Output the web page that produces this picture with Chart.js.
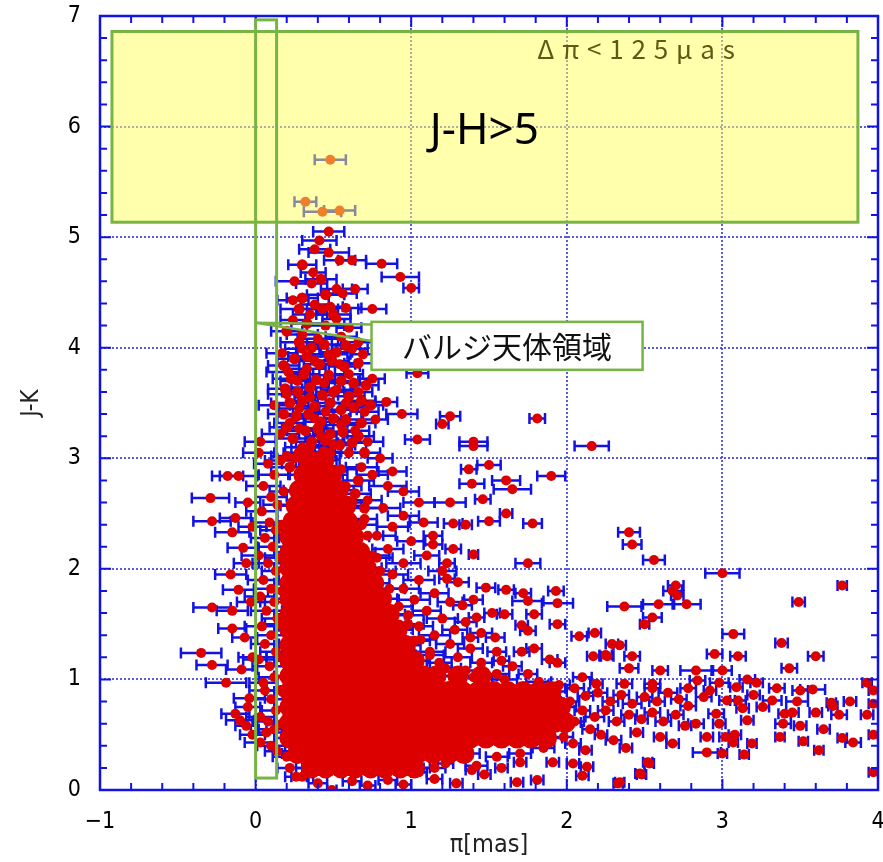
<!DOCTYPE html>
<html>
<head>
<meta charset="utf-8">
<script src="https://cdn.jsdelivr.net/npm/chart.js@4.4.1/dist/chart.umd.min.js"></script>
<style>
  html, body { margin: 0; padding: 0; background: #fff; }
  canvas { display: block; }
</style>
</head>
<body>
<canvas id="grafico" width="883" height="862"></canvas>
<script>
// 軸の範囲
const xRange = [-1, 4];
const yRange = [0, 7];

// 密集部（バルジ＋円盤）: [J-K, [π...]]
const coreRows = [
  [0.20, [0.36,0.45,0.55,0.64,0.74,0.83,0.93,1.02]],
  [0.33, [0.27,0.37,0.46,0.56,0.66,0.75,0.85,0.95,1.04,1.14,1.24,1.34]],
  [0.47, [0.22,0.31,0.41,0.51,0.60,0.70,0.80,0.90,0.99,1.09,1.19,1.29,1.38,1.48,1.58,1.68,1.77,1.87]],
  [0.61, [0.22,0.27,0.36,0.46,0.56,0.65,0.75,0.85,0.94,1.04,1.14,1.24,1.33,1.43,1.53,1.63,1.72,1.82,1.92,1.99]],
  [0.75, [0.22,0.31,0.41,0.51,0.60,0.70,0.80,0.89,0.99,1.09,1.19,1.28,1.38,1.48,1.58,1.67,1.77,1.87,1.96]],
  [0.89, [0.22,0.27,0.36,0.46,0.56,0.65,0.75,0.85,0.94,1.04,1.14,1.24,1.33,1.43,1.53,1.62,1.72,1.82,1.90]],
  [1.03, [0.22,0.31,0.41,0.51,0.60,0.70,0.80,0.89,0.99,1.08,1.16,1.30,1.45]],
  [1.17, [0.22,0.27,0.36,0.46,0.56,0.65,0.75,0.85,0.94,1.02]],
  [1.31, [0.22,0.31,0.41,0.51,0.60,0.70,0.80,0.89,0.96]],
  [1.45, [0.22,0.27,0.36,0.46,0.56,0.65,0.75,0.84,0.91]],
  [1.59, [0.22,0.31,0.41,0.51,0.60,0.70,0.79,0.86]],
  [1.73, [0.22,0.27,0.36,0.46,0.56,0.65,0.74,0.81]],
  [1.87, [0.22,0.31,0.41,0.51,0.60,0.69,0.76]],
  [2.01, [0.22,0.27,0.36,0.46,0.55,0.64,0.71]],
  [2.15, [0.22,0.31,0.41,0.50,0.59,0.67]],
  [2.29, [0.22,0.27,0.36,0.45,0.54,0.63]],
  [2.43, [0.24,0.32,0.41,0.50,0.59]],
  [2.57, [0.26,0.35,0.44,0.53,0.58]],
  [2.71, [0.28,0.37,0.46,0.53]],
  [2.85, [0.31,0.40,0.49]],
  [2.99, [0.34,0.44]]
];
const coreErr = 0.1;

// 円錐状の上部（中程度の密度）: [π, J-K, Δπ]
const coneDense = [
  [0.20,4.15,0.10],[0.28,4.05,0.12],[0.36,4.00,0.10],[0.44,4.03,0.11],[0.52,3.96,0.10],[0.58,4.02,0.09],
  [0.25,3.90,0.11],[0.33,3.92,0.12],[0.41,3.85,0.10],[0.49,3.88,0.11],[0.57,3.83,0.10],[0.66,3.86,0.09],
  [0.18,3.84,0.10],[0.23,3.72,0.12],[0.31,3.76,0.10],[0.39,3.71,0.12],[0.47,3.75,0.10],[0.55,3.70,0.11],
  [0.63,3.68,0.09],[0.71,3.66,0.08],[0.19,3.63,0.11],[0.27,3.60,0.10],[0.35,3.64,0.12],[0.43,3.57,0.10],
  [0.50,3.60,0.11],[0.60,3.56,0.10],[0.68,3.52,0.09],[0.22,3.50,0.12],[0.30,3.52,0.10],[0.38,3.47,0.11],
  [0.48,3.50,0.10],[0.55,3.44,0.10],[0.63,3.46,0.09],[0.74,3.48,0.08],[0.18,3.40,0.10],[0.26,3.38,0.12],
  [0.34,3.40,0.10],[0.42,3.33,0.11],[0.50,3.36,0.10],[0.58,3.35,0.10],[0.68,3.32,0.09],[0.20,3.28,0.11],
  [0.32,3.25,0.12],[0.40,3.27,0.10],[0.48,3.22,0.11],[0.56,3.24,0.10],[0.66,3.20,0.10],[0.24,3.18,0.11],
  [0.36,3.15,0.10],[0.45,3.16,0.12],[0.54,3.12,0.10],[0.62,3.14,0.09],[0.28,3.05,0.10],[0.44,3.06,0.11],
  [0.70,3.05,0.10],[0.22,2.92,0.12],[0.66,2.80,0.10],[0.64,2.68,0.10],[0.70,2.55,0.11],[0.68,2.40,0.10],
  [0.30,4.45,0.10],[0.45,4.48,0.12],[0.33,4.22,0.10],[0.50,4.30,0.11],[0.28,4.35,0.12],[0.42,4.62,0.10],
  [0.30,4.75,0.09]
];

const upperPts = [
  [0.48,5.70,0.10],[0.32,5.32,0.07],[0.43,5.23,0.12],[0.54,5.24,0.10],
  [0.47,5.05,0.10],[0.41,4.97,0.11],[0.38,4.89,0.10],[0.47,4.86,0.13],[0.54,4.79,0.10],[0.62,4.79,0.09],
  [0.81,4.76,0.10],[0.93,4.64,0.12],[1.00,4.54,0.05],[0.37,4.68,0.08],[0.25,4.60,0.12],[0.36,4.58,0.10],
  [0.52,4.53,0.10],[0.64,4.53,0.08],[0.56,4.49,0.09],[0.24,4.43,0.10],[0.38,4.39,0.09],[0.43,4.35,0.10],
  [0.48,4.37,0.08],[0.58,4.36,0.10],[0.75,4.35,0.09],[0.35,4.30,0.11],[0.24,4.25,0.08],[0.52,4.26,0.09],
  [0.45,4.20,0.12],[0.60,4.18,0.08],[0.30,4.12,0.10],[0.40,4.08,0.13],[0.55,4.10,0.10],[0.66,4.05,0.09],
  [0.17,3.95,0.10],[0.30,3.99,0.11],[0.47,3.94,0.12],[0.62,3.99,0.10],[0.69,3.94,0.08],[0.38,3.88,0.10],
  [0.21,3.78,0.14],[0.33,3.81,0.12],[0.54,3.85,0.10],[0.60,3.76,0.09],[0.75,3.72,0.08],[1.04,3.77,0.07],
  [0.27,3.70,0.11],[0.44,3.68,0.12],[0.52,3.62,0.10],[0.66,3.60,0.09],[0.20,3.58,0.12],[0.35,3.55,0.10],
  [0.84,3.51,0.07],[0.58,3.50,0.11],[0.12,3.48,0.10],[0.28,3.45,0.13],[0.45,3.42,0.10],[0.70,3.42,0.09],
  [0.94,3.40,0.10],[0.38,3.36,0.12],[0.77,3.35,0.08],[0.22,3.32,0.10],[0.55,3.30,0.10],[0.28,3.27,0.11],
  [0.64,3.25,0.09],[0.16,3.22,0.12],[0.42,3.20,0.10],[0.03,3.15,0.10],[1.04,3.17,0.08],[0.72,3.15,0.10],
  [0.50,3.12,0.12],[0.30,3.10,0.11],[0.60,3.05,0.09],[0.20,3.02,0.10],[0.80,3.00,0.08],[0.40,2.98,0.12],
  [0.68,2.92,0.10],[0.88,2.88,0.09],[0.62,2.60,0.10],[0.58,2.75,0.10],[0.55,2.90,0.10],[0.48,3.05,0.11],
  [0.35,3.10,0.12],[0.25,3.00,0.11]
];

const rightPts = [
  [1.25,3.38,0.065],[1.20,3.31,0.04],[1.81,3.36,0.05],[1.40,3.15,0.09],[1.40,3.11,0.09],[2.16,3.11,0.11],
  [1.50,2.94,0.075],[1.37,2.90,0.05],[1.90,2.84,0.09],[1.61,2.80,0.09],[1.39,2.77,0.08],[1.65,2.72,0.12],
  [1.25,2.60,0.10],[1.46,2.63,0.05],[1.61,2.50,0.04],[1.50,2.43,0.07],[1.78,2.41,0.06],[1.35,2.40,0.04],
  [1.27,2.41,0.06],[1.14,2.30,0.06],[1.27,2.18,0.05],[1.40,2.13,0.03],[1.75,2.05,0.08],[2.40,2.33,0.07],
  [2.42,2.22,0.06],[1.14,2.22,0.06],[1.23,2.05,0.05],[2.56,2.08,0.07],[3.00,1.96,0.11],[3.77,1.85,0.03],
  [2.70,1.85,0.05],[2.68,1.80,0.06],[2.71,1.76,0.04],[3.49,1.70,0.04],[2.37,1.66,0.11],[2.59,1.68,0.10],
  [2.77,1.68,0.09],[2.55,1.56,0.06],[2.50,1.50,0.03],[3.07,1.41,0.07],[3.38,1.33,0.04],[2.29,1.32,0.04],
  [2.34,1.31,0.04],[2.25,1.22,0.04],[2.42,1.21,0.05],[2.95,1.23,0.05],[3.10,1.21,0.05],[3.60,1.21,0.05],
  [3.43,1.10,0.05],[2.40,1.10,0.06],[2.83,1.08,0.10],[3.00,1.08,0.06],
  [0.75,2.85,0.10],[0.85,2.75,0.12],[0.95,2.70,0.10],[0.72,2.62,0.09],[1.05,2.60,0.10],[0.82,2.55,0.11],
  [0.95,2.48,0.10],[0.70,2.45,0.08],[1.08,2.42,0.09],[0.88,2.38,0.10],[0.78,2.30,0.12],[1.00,2.25,0.09],
  [0.85,2.18,0.10],[1.10,2.12,0.08],[0.78,2.10,0.10],[0.95,2.05,0.11],[1.20,1.98,0.09],[0.88,1.95,0.10],
  [1.05,1.90,0.10],[1.30,1.88,0.07],[0.95,1.82,0.10],[1.15,1.78,0.09],[1.02,1.72,0.10],[1.25,1.70,0.08],
  [1.40,1.72,0.06],[1.10,1.62,0.09],[0.98,1.58,0.10],[1.20,1.55,0.10],[1.35,1.52,0.07],[1.05,1.48,0.09],
  [1.28,1.45,0.08],[1.15,1.40,0.10],[1.45,1.42,0.07],[1.02,1.35,0.10],[1.25,1.32,0.09],[1.38,1.28,0.08],
  [1.12,1.25,0.10],[1.55,1.25,0.06],[1.30,1.20,0.09],[1.18,1.15,0.08],[1.45,1.15,0.07],[1.65,1.12,0.06],
  [1.35,1.08,0.09],[1.55,1.05,0.08],[1.75,1.05,0.06],
  [1.23,1.91,0.05],[1.48,1.83,0.06],[1.61,1.81,0.05],[1.72,1.78,0.05],[1.93,1.80,0.05],[1.94,1.69,0.10],
  [1.75,1.71,0.10],[1.52,1.60,0.05],[1.60,1.59,0.05],[1.79,1.59,0.05],[1.33,1.67,0.06],[1.42,1.56,0.05],
  [1.94,1.50,0.05],[1.71,1.49,0.04],[1.75,1.44,0.05],[2.08,1.39,0.05],[2.18,1.42,0.04],[1.54,1.38,0.06],
  [1.38,1.38,0.05],[2.26,1.21,0.04],[2.17,1.21,0.04],[1.79,1.28,0.05],[1.71,1.25,0.05],[1.89,1.18,0.05],
  [1.94,1.15,0.05],[1.58,1.17,0.05],[2.10,1.02,0.06],[2.19,0.96,0.04],[2.37,0.96,0.05],[2.55,0.96,0.05],
  [2.60,1.08,0.05],
  [0.72,2.30,0.10],[0.75,2.12,0.11],[0.80,1.98,0.10],[0.86,1.82,0.10],[0.92,1.66,0.09],[0.98,1.50,0.10],
  [1.06,1.36,0.10],[1.12,1.22,0.09],[1.22,1.10,0.10],[1.40,1.02,0.09],[1.60,1.00,0.08],[1.82,0.98,0.08],
  [1.95,0.95,0.07]
];

const tailPts = [
  [2.90,0.34,0.09],[3.00,0.33,0.03],[3.14,0.32,0.03],[2.52,0.25,0.03],[2.48,0.14,0.03],[2.33,0.06,0.03],
  [3.97,0.16,0.03],[3.62,0.36,0.03],[3.52,0.44,0.03],[3.37,0.48,0.03],[3.19,0.42,0.03],[3.77,0.47,0.03],
  [3.84,0.43,0.05],[3.97,0.50,0.03],[3.93,0.68,0.04],[3.97,0.78,0.03],[3.97,0.90,0.03],[3.93,0.97,0.03],
  [3.70,0.79,0.03],[3.71,0.76,0.03],[3.58,0.91,0.08],[3.50,0.90,0.05],[3.48,0.80,0.07],[3.40,0.69,0.04],
  [3.39,0.60,0.05],[3.26,0.75,0.04],[3.32,0.81,0.06],[3.22,0.97,0.04],[3.16,1.00,0.05],[3.09,0.93,0.04],
  [3.13,0.74,0.04],[3.16,0.63,0.04],[3.08,0.50,0.04],[3.02,0.48,0.04],[3.07,0.43,0.03],[2.90,0.48,0.04],
  [2.83,0.60,0.05],[2.98,0.60,0.04],[2.96,0.69,0.05],[3.03,0.81,0.05],[3.10,0.81,0.05],[2.98,0.97,0.06],
  [2.84,0.99,0.05],
  [2.05,0.92,0.06],[2.12,0.85,0.05],[2.20,0.88,0.06],[2.28,0.80,0.05],[2.35,0.86,0.05],[2.42,0.78,0.06],
  [2.50,0.84,0.05],[2.58,0.80,0.05],[2.65,0.88,0.06],[2.72,0.82,0.05],[2.78,0.76,0.05],[2.88,0.84,0.05],
  [2.10,0.72,0.05],[2.18,0.66,0.06],[2.25,0.72,0.05],[2.32,0.62,0.05],[2.40,0.68,0.05],[2.48,0.64,0.04],
  [2.55,0.70,0.05],[2.62,0.62,0.05],[2.70,0.68,0.05],[2.76,0.58,0.04],[2.15,0.55,0.05],[2.22,0.50,0.04],
  [2.30,0.45,0.05],[2.45,0.52,0.04],[2.60,0.48,0.04],[2.68,0.42,0.04],[2.38,0.38,0.04],[2.04,0.42,0.05],
  [2.12,0.36,0.04],[2.55,0.92,0.05],[2.78,0.92,0.05],[2.92,0.90,0.04],[3.20,0.86,0.04],[3.35,0.92,0.05],
  [3.45,0.70,0.04],[3.60,0.70,0.04],[3.75,0.68,0.05],[3.82,0.80,0.04],[3.65,0.55,0.04],[3.50,0.58,0.04],
  [2.02,0.80,0.06],[2.05,0.62,0.06],[1.98,0.48,0.06],[1.85,0.38,0.07],[1.70,0.33,0.07],[1.55,0.30,0.07],
  [1.42,0.22,0.07],[1.15,0.20,0.07]
];

const bottomPts = [
  [0.49,0.00,0.03],[2.04,0.24,0.04],[2.13,0.21,0.04],[2.10,0.13,0.04],[2.34,0.07,0.03],[2.53,0.24,0.03],
  [2.47,0.15,0.03],[1.81,0.09,0.04],[1.68,0.07,0.04],[1.58,0.20,0.04],[1.47,0.14,0.04],[1.91,0.25,0.04],
  [1.39,0.18,0.04],[1.29,0.06,0.04],[1.15,0.10,0.05],[1.05,0.16,0.05],[0.95,0.05,0.05],[0.85,0.09,0.06],
  [0.72,0.04,0.05],[0.62,0.08,0.06],[0.40,0.06,0.06],[0.30,0.12,0.07],[1.22,0.24,0.05],[1.70,0.25,0.04],
  [0.22,0.20,0.08],[0.26,0.12,0.07],[0.20,0.30,0.09]
];

const leftPts = [
  [-0.11,2.84,0.12],[-0.18,2.84,0.10],[-0.29,2.64,0.12],[-0.28,2.43,0.12],[-0.15,2.33,0.11],[-0.13,2.46,0.10],
  [-0.08,2.19,0.10],[-0.16,1.95,0.10],[-0.11,1.81,0.10],[-0.28,1.65,0.12],[-0.15,1.62,0.10],[-0.15,1.46,0.09],
  [-0.35,1.24,0.13],[-0.28,1.13,0.10],[-0.09,1.09,0.10],[-0.19,0.97,0.13],[-0.04,0.83,0.10],[-0.13,0.69,0.09],
  [-0.10,0.63,0.09],[0.03,0.43,0.10],[0.07,0.52,0.10],[0.03,0.66,0.09],[0.06,0.90,0.10],
  [0.02,3.05,0.10],[0.08,2.95,0.09],[0.12,2.85,0.10],[0.05,2.75,0.11],[0.10,2.65,0.10],[0.14,2.58,0.09],
  [0.04,2.52,0.10],[0.09,2.42,0.11],[0.13,2.35,0.10],[0.06,2.28,0.09],[0.11,2.20,0.10],[0.02,2.12,0.11],
  [0.08,2.05,0.10],[0.13,1.98,0.09],[0.05,1.90,0.10],[0.10,1.82,0.11],[0.03,1.75,0.10],[0.12,1.70,0.09],
  [0.07,1.62,0.10],[0.14,1.55,0.10],[0.04,1.48,0.11],[0.10,1.40,0.10],[0.06,1.32,0.09],[0.13,1.25,0.10],
  [0.02,1.18,0.10],[0.09,1.12,0.11],[0.12,1.02,0.10],[0.05,0.97,0.09],[0.10,0.82,0.10],[0.13,0.72,0.09],
  [0.08,0.62,0.10],[0.12,0.55,0.10],[0.10,0.40,0.09],[0.14,0.35,0.08],[0.16,2.98,0.10],[0.18,2.70,0.09],
  [0.17,2.40,0.10],[0.16,2.10,0.10],[0.17,1.80,0.09],[0.16,1.50,0.10],[0.17,1.20,0.10],[0.16,0.90,0.09],
  [0.17,0.60,0.10],[-0.05,2.60,0.08],[-0.02,2.38,0.09],[-0.06,2.05,0.08],[-0.03,1.70,0.09],[-0.07,1.38,0.08],
  [-0.02,1.20,0.09],[-0.05,0.75,0.08],[-0.02,0.50,0.08],[-0.06,0.58,0.07]
];

// 注記（データ座標）
const yellowBox = { x0: -0.923, x1: 3.871, y0: 6.86, y1: 5.135 };
const bulgeStrip = { x0: 0.0, x1: 0.135, y0: 6.965, y1: 0.108 };
const calloutBox = { x0: 0.745, x1: 2.487, y0: 4.234, y1: 3.80 };
const calloutTip = { x: 0.0, y: 4.225, yA: 4.21, yB: 4.06 };
const labelJH = { x: 1.47, y: 5.96, text: "J-H>5" };
const labelDp = { x0: 1.81, x1: 3.08, y: 6.70, text: "Δπ<125μas" };
const labelBulge = "バルジ天体領域";

const rojo = "#dc0000";
const azul = "#1212e2";
const verde = "#78b443";
const narrow = "'Liberation Sans Narrow','DejaVu Sans Condensed','Liberation Sans',sans-serif";

const toData = pts => pts.map(([x, y, e]) => ({ x, y, e }));
const corePts = coreRows.flatMap(([y, xs]) => xs.map(x => [x, y, coreErr]));

function serie(pts, r) {
  return {
    data: toData(pts),
    pointRadius: r,
    pointHoverRadius: r,
    backgroundColor: rojo,
    borderWidth: 0,
    clip: 0
  };
}

const errorBars = {
  id: "errorBars",
  beforeDatasetsDraw(chart) {
    const { ctx, chartArea: a, scales: { x, y } } = chart;
    ctx.save();
    ctx.beginPath();
    ctx.rect(a.left, a.top, a.width, a.height);
    ctx.clip();
    ctx.strokeStyle = azul;
    ctx.lineWidth = 2.5;
    chart.data.datasets.forEach(ds => {
      ds.data.forEach(p => {
        const py = y.getPixelForValue(p.y);
        const xl = x.getPixelForValue(p.x - p.e);
        const xr = x.getPixelForValue(p.x + p.e);
        ctx.beginPath();
        ctx.moveTo(xl, py); ctx.lineTo(xr, py);
        ctx.moveTo(xl, py - 5.5); ctx.lineTo(xl, py + 5.5);
        ctx.moveTo(xr, py - 5.5); ctx.lineTo(xr, py + 5.5);
        ctx.stroke();
      });
    });
    ctx.restore();
  }
};

const overlays = {
  id: "overlays",
  afterDatasetsDraw(chart) {
    const { ctx, chartArea: a, scales: { x, y } } = chart;
    const px = v => x.getPixelForValue(v);
    const py = v => y.getPixelForValue(v);
    ctx.save();

    // 枠と内向き目盛り
    ctx.strokeStyle = azul;
    ctx.lineWidth = 2.5;
    ctx.strokeRect(a.left, a.top, a.width, a.height);
    ctx.lineWidth = 2;
    for (let i = 0; i <= (xRange[1] - xRange[0]) * 5; i++) {
      const v = xRange[0] + i * 0.2;
      const len = i % 5 === 0 ? 11 : 7;
      const p = px(v);
      ctx.beginPath();
      ctx.moveTo(p, a.bottom); ctx.lineTo(p, a.bottom - len);
      ctx.moveTo(p, a.top); ctx.lineTo(p, a.top + len);
      ctx.stroke();
    }
    for (let i = 0; i <= (yRange[1] - yRange[0]) * 5; i++) {
      const v = yRange[0] + i * 0.2;
      const len = i % 5 === 0 ? 11 : 7;
      const p = py(v);
      ctx.beginPath();
      ctx.moveTo(a.left, p); ctx.lineTo(a.left + len, p);
      ctx.moveTo(a.right, p); ctx.lineTo(a.right - len, p);
      ctx.stroke();
    }

    // 黄色い領域（半透明）
    const yb = yellowBox;
    ctx.fillStyle = "rgba(255,255,90,0.5)";
    ctx.fillRect(px(yb.x0), py(yb.y0), px(yb.x1) - px(yb.x0), py(yb.y1) - py(yb.y0));
    ctx.strokeStyle = verde;
    ctx.lineWidth = 3;
    ctx.strokeRect(px(yb.x0), py(yb.y0), px(yb.x1) - px(yb.x0), py(yb.y1) - py(yb.y0));

    // バルジ領域の細い枠
    const bs = bulgeStrip;
    ctx.strokeRect(px(bs.x0), py(bs.y0), px(bs.x1) - px(bs.x0), py(bs.y1) - py(bs.y0));

    // 吹き出し
    const cb = calloutBox, ct = calloutTip;
    ctx.lineWidth = 2.5;
    ctx.beginPath();
    ctx.moveTo(px(cb.x0), py(ct.yA));
    ctx.lineTo(px(ct.x), py(ct.y));
    ctx.lineTo(px(cb.x0), py(ct.yB));
    ctx.stroke();
    ctx.fillStyle = "#fff";
    ctx.fillRect(px(cb.x0), py(cb.y0), px(cb.x1) - px(cb.x0), py(cb.y1) - py(cb.y0));
    ctx.strokeRect(px(cb.x0), py(cb.y0), px(cb.x1) - px(cb.x0), py(cb.y1) - py(cb.y0));
    ctx.fillStyle = "#111";
    ctx.font = "30px 'Noto Sans CJK JP'";
    ctx.textAlign = "center";
    ctx.textBaseline = "middle";
    ctx.fillText(labelBulge, (px(cb.x0) + px(cb.x1)) / 2, (py(cb.y0) + py(cb.y1)) / 2 + 1);

    // J-H>5
    ctx.fillStyle = "#000";
    ctx.font = "44px 'Noto Sans'";
    ctx.fillText(labelJH.text, px(labelJH.x), py(labelJH.y));

    // Δπ<125μas（字間を広げて描く）
    ctx.fillStyle = "#5c5a14";
    ctx.font = "26px 'Noto Sans CJK JP'";
    ctx.textAlign = "left";
    const chars = [...labelDp.text];
    const widths = chars.map(c => ctx.measureText(c).width);
    const total = px(labelDp.x1) - px(labelDp.x0);
    const gap = (total - widths.reduce((s, w) => s + w, 0)) / (chars.length - 1);
    let cx = px(labelDp.x0);
    chars.forEach((c, i) => { ctx.fillText(c, cx, py(labelDp.y)); cx += widths[i] + gap; });

    ctx.restore();
  }
};

const gridOpts = { color: "rgba(60,60,225,0.85)", lineWidth: 2, drawTicks: false };
const tickFont = { family: narrow, size: 23 };

new Chart(document.getElementById("grafico"), {
  type: "scatter",
  data: {
    datasets: [
      serie(leftPts, 5),
      serie(bottomPts, 5),
      serie(tailPts, 5),
      serie(rightPts, 5),
      serie(upperPts, 5),
      serie(coneDense, 5.5),
      serie(corePts, 10.5)
    ]
  },
  options: {
    responsive: false,
    animation: false,
    events: [],
    layout: { autoPadding: false, padding: { top: 16, right: 5, left: 0, bottom: 0 } },
    plugins: { legend: { display: false }, tooltip: { enabled: false } },
    scales: {
      x: {
        type: "linear",
        min: xRange[0], max: xRange[1],
        afterFit: s => { s.height = 72; s.paddingLeft = 0; s.paddingRight = 0; },
        grid: gridOpts,
        border: { display: false, dash: [2, 2] },
        ticks: {
          stepSize: 1, padding: 18, color: "#000", font: tickFont,
          callback: v => (v < 0 ? "−" + Math.abs(v) : String(v))
        },
        title: { display: true, text: "π[mas]", color: "#222", font: { family: narrow, size: 25 }, padding: { top: 0, bottom: 2 } }
      },
      y: {
        type: "linear",
        min: yRange[0], max: yRange[1],
        afterFit: s => { s.width = 100; s.paddingTop = 0; s.paddingBottom = 0; },
        grid: gridOpts,
        border: { display: false, dash: [2, 2] },
        ticks: { stepSize: 1, padding: 19, color: "#000", font: tickFont },
        title: { display: true, text: "J-K", color: "#222", font: { family: narrow, size: 24 }, padding: { top: 17, bottom: 0 } }
      }
    }
  },
  plugins: [errorBars, overlays]
});
</script>
</body>
</html>
